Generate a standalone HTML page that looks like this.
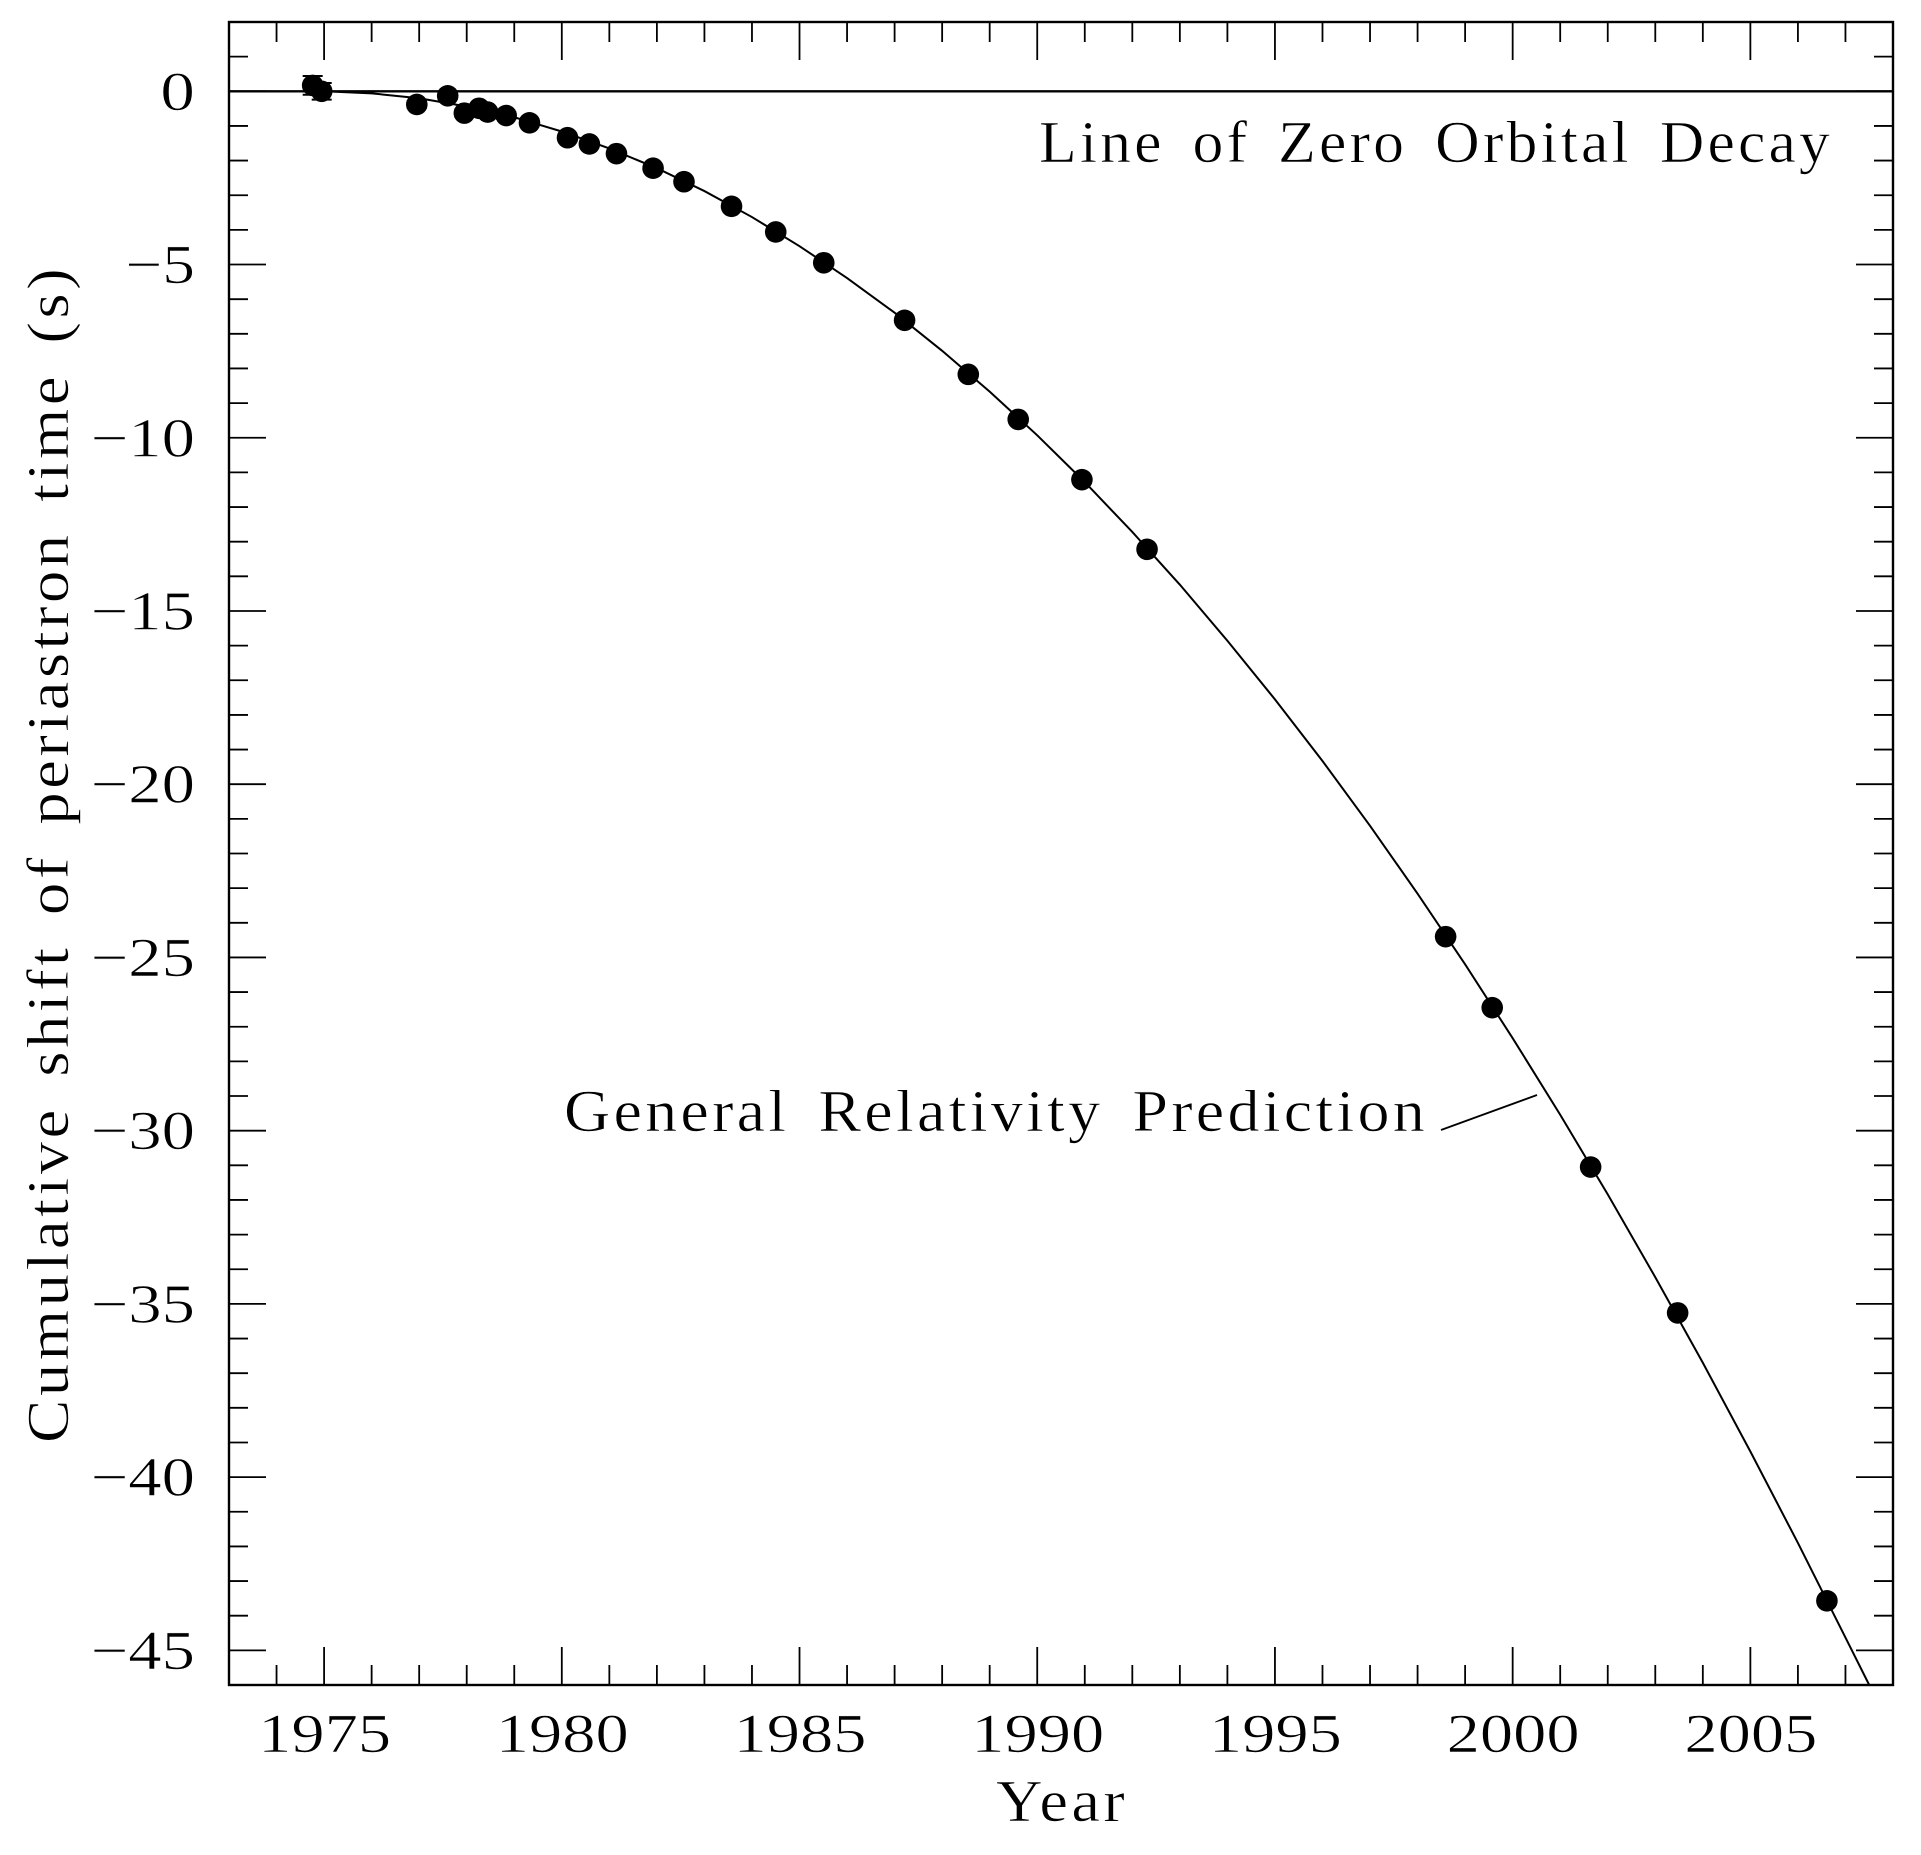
<!DOCTYPE html>
<html lang="en">
<head>
<meta charset="utf-8">
<title>Cumulative shift of periastron time</title>
<style>
html,body{margin:0;padding:0;background:#fff;}
svg{display:block;}
text{font-family:"Liberation Serif",serif;fill:#000;stroke:#fff;stroke-width:0.6px;font-size:59px;letter-spacing:3px;word-spacing:9px;}
text.num{font-size:55px;letter-spacing:0;word-spacing:0;}
</style>
</head>
<body>
<svg id="chart" xmlns="http://www.w3.org/2000/svg" width="1921" height="1855" viewBox="0 0 1921 1855">
  <rect x="0" y="0" width="1921" height="1855" fill="#fff"/>
  <g id="ticks"></g>
  <g id="labels"></g>
  <g id="series"></g>
  <rect x="229" y="22" width="1664" height="1663" fill="none" stroke="#000" stroke-width="2.4"/>
  <text transform="translate(68 1443) rotate(-90)" textLength="1178" lengthAdjust="spacingAndGlyphs">Cumulative shift of periastron time (s)</text>
  <text x="996" y="1821" textLength="132" lengthAdjust="spacingAndGlyphs">Year</text>
  <text x="1039" y="162" textLength="794" lengthAdjust="spacingAndGlyphs">Line of Zero Orbital Decay</text>
  <text x="564" y="1131" textLength="864" lengthAdjust="spacingAndGlyphs">General Relativity Prediction</text>
  <line x1="1441" y1="1130" x2="1537" y2="1095" stroke="#000" stroke-width="1.8"/>
</svg>
<script>
const xDomain = [1973, 2008];
const yDomain = [-46, 2];
const xTickLabels = [1975, 1980, 1985, 1990, 1995, 2000, 2005];
const yTickLabels = [0, -5, -10, -15, -20, -25, -30, -35, -40, -45];
const obsYears = [1974.76, 1974.95, 1976.95, 1977.6, 1977.95, 1978.26, 1978.44, 1978.83, 1979.32, 1980.12, 1980.58, 1981.15, 1981.92, 1982.57, 1983.57, 1984.5, 1985.51, 1987.21, 1988.55, 1989.6, 1990.94, 1992.31, 1998.59, 1999.57, 2001.64, 2003.47, 2006.61];
const obsShift = [0.17, 0, -0.38, -0.13, -0.63, -0.49, -0.6, -0.7, -0.91, -1.34, -1.52, -1.8, -2.22, -2.61, -3.32, -4.06, -4.95, -6.61, -8.17, -9.47, -11.21, -13.22, -24.4, -26.45, -31.05, -35.26, -43.57];
const obsError = [0.27, 0.24, 0.1, 0.1, 0.1, 0.1, 0.1, 0.1, 0.1, 0.08, 0.08, 0.08, 0.08, 0.08, 0.05, 0.05, 0.05, 0.05, 0.05, 0.05, 0.05, 0.05, 0.05, 0.05, 0.05, 0.05, 0.05];
const curveYears = [1974.82, 1975, 1976, 1977, 1978, 1979, 1980, 1981, 1982, 1983, 1984, 1985, 1986, 1987, 1988, 1989, 1990, 1991, 1992, 1993, 1994, 1995, 1996, 1997, 1998, 1999, 2000, 2001, 2002, 2003, 2004, 2005, 2006, 2007, 2007.5];
const curveShift = [0, 0, -0.06, -0.2, -0.44, -0.75, -1.16, -1.65, -2.22, -2.88, -3.63, -4.47, -5.39, -6.39, -7.49, -8.67, -9.93, -11.28, -12.72, -14.24, -15.86, -17.55, -19.33, -21.2, -23.16, -25.2, -27.33, -29.54, -31.84, -34.23, -36.7, -39.26, -41.9, -44.63, -46];

const NS = 'http://www.w3.org/2000/svg';
const frame = {left: 229, right: 1893, top: 22, bottom: 1685};
function xScale(v) { return frame.left + (v - xDomain[0]) / (xDomain[1] - xDomain[0]) * (frame.right - frame.left); }
function yScale(v) { return frame.bottom - (v - yDomain[0]) / (yDomain[1] - yDomain[0]) * (frame.bottom - frame.top); }

const ticksG = document.getElementById('ticks');
const labelsG = document.getElementById('labels');
const seriesG = document.getElementById('series');

function addLine(parent, x1, y1, x2, y2, w) {
  const l = document.createElementNS(NS, 'line');
  l.setAttribute('x1', x1);
  l.setAttribute('y1', y1);
  l.setAttribute('x2', x2);
  l.setAttribute('y2', y2);
  l.setAttribute('stroke', '#000');
  l.setAttribute('stroke-width', w);
  parent.appendChild(l);
  return l;
}

for (let yr = xDomain[0] + 1; yr < xDomain[1]; yr++) {
  const len = yr % 5 === 0 ? 38 : 20;
  const px = xScale(yr);
  const b = addLine(ticksG, px, frame.bottom, px, frame.bottom - len, 1.8);
  
  
  const t = addLine(ticksG, px, frame.top, px, frame.top + len, 1.8);
  
  
}
for (let s = yDomain[0] + 1; s < yDomain[1]; s++) {
  const len = s % 5 === 0 ? 37 : 19;
  const py = yScale(s);
  const a = addLine(ticksG, frame.left, py, frame.left + len, py, 1.8);
  
  
  const c = addLine(ticksG, frame.right, py, frame.right - len, py, 1.8);
  
  
}

xTickLabels.forEach(function (v) {
  const t = document.createElementNS(NS, 'text');
  
  
  t.setAttribute('class', 'num');
  t.setAttribute('x', xScale(v) - 66);
  t.setAttribute('y', 1752);
  t.setAttribute('textLength', 133);
  t.setAttribute('lengthAdjust', 'spacingAndGlyphs');
  t.textContent = String(v);
  labelsG.appendChild(t);
});
yTickLabels.forEach(function (v) {
  const str = String(Math.abs(v));
  const w = str.length * 34.7 + (v < 0 ? 35 : 0);
  const t = document.createElementNS(NS, 'text');
  
  
  t.setAttribute('class', 'num');
  t.setAttribute('x', 195 - w);
  t.setAttribute('y', yScale(v) + 18.5);
  t.setAttribute('textLength', w);
  t.setAttribute('lengthAdjust', 'spacingAndGlyphs');
  t.textContent = (v < 0 ? '\u2212' : '') + str;
  labelsG.appendChild(t);
});

const zero = addLine(seriesG, frame.left, yScale(0), frame.right, yScale(0), 2.4);



const curve = document.createElementNS(NS, 'polyline');


curve.setAttribute('fill', 'none');
curve.setAttribute('stroke', '#000');
curve.setAttribute('stroke-width', 2);
curve.setAttribute('points', curveYears.map(function (yr, i) { return xScale(yr).toFixed(2) + ',' + yScale(curveShift[i]).toFixed(2); }).join(' '));
seriesG.appendChild(curve);

obsYears.forEach(function (yr, i) {
  const px = xScale(yr);
  const hi = yScale(obsShift[i] + obsError[i]);
  const lo = yScale(obsShift[i] - obsError[i]);
  const bar = addLine(seriesG, px, hi, px, lo, 2);
  
  
  const capA = addLine(seriesG, px - 10, hi, px + 10, hi, 2);
  
  
  const capB = addLine(seriesG, px - 10, lo, px + 10, lo, 2);
  
  
  const dot = document.createElementNS(NS, 'circle');
  
  
  dot.setAttribute('cx', px);
  dot.setAttribute('cy', yScale(obsShift[i]));
  dot.setAttribute('r', 10.8);
  dot.setAttribute('fill', '#000');
  seriesG.appendChild(dot);
});
</script>
</body>
</html>
